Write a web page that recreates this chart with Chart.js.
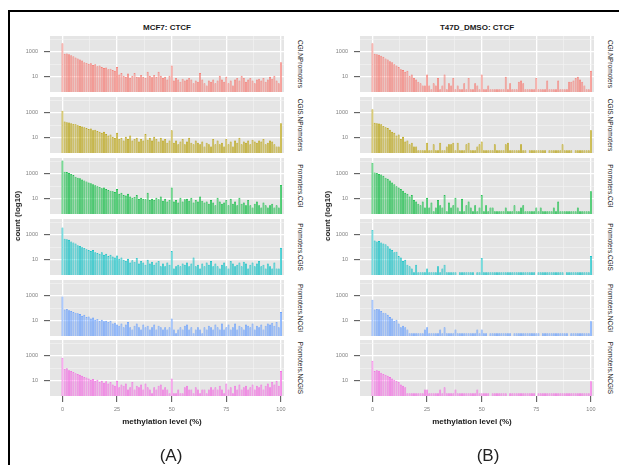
<!DOCTYPE html>
<html><head><meta charset="utf-8">
<script src="https://cdn.jsdelivr.net/npm/chart.js@4.4.1/dist/chart.umd.min.js"></script>
<style>
body{margin:0;width:619px;height:465px;background:#fff;position:relative;overflow:hidden;font-family:"Liberation Sans",Arial,sans-serif;}
.frame{position:absolute;left:8px;top:10px;width:700px;height:500px;border-top:2px solid #000;border-left:2px solid #000;}
.abs{position:absolute;white-space:nowrap;line-height:1;}
.title{font-weight:bold;font-size:8px;color:#1a1a1a;transform:translate(-50%,-50%);}
.strip{font-size:6.5px;color:#1a1a1a;transform:translate(-50%,-50%) rotate(90deg);}
.ytitle{font-weight:bold;font-size:8px;color:#1a1a1a;transform:translate(-50%,-50%) rotate(-90deg);}
.xtitle{font-weight:bold;font-size:8px;color:#1a1a1a;transform:translate(-50%,-50%);}
.lab{font-size:17px;color:#222;transform:translate(-50%,-50%);}
canvas{position:absolute;}
</style></head><body>
<div class="frame"></div>
<script>
// ---- data ----
const bins = Array.from({length:101},(_,i)=>i);          // methylation level bins (%)
const xTickValues = [0,12.5,25,37.5,50,62.5,75,87.5,100];
const yTickValues = [10,100,1000,10000];
const panelTitles = ["MCF7: CTCF","T47D_DMSO: CTCF"];
const facetNames = ["CGI.NPromoters","CGIS.NPromoters","Promoters.CGI","Promoters.CGIS","Promoters.NCGI","Promoters.NCGIS"];
const facetColors = ["#F8766D","#B79F00","#00BA38","#00BFC4","#619CFF","#F564E3"];

const mcf7_CGI_NPromoters = [5000, 700,750,650,550,450, 350,300,250,200,150, 130,110,120,90,100, 70,80,60,50,55, 40,45,35,30,60, 15,20,12,10,18, 8,12,20,10,9, 14,10,8,25,12, 9,14,10,25,12, 8,10,6,12,80, 5,8,6,4,7, 5,6,8,6,3, 5,4,20,6,3, 2,5,4,6,3, 5,12,6,4,10, 3,5,2,6,8, 5,12,8,4,6, 8,5,3,6,7, 5,8,4,6,10, 7,12,5,3,150];
const mcf7_CGIS_NPromoters = [1500, 200,180,170,150,130, 120,100,90,80,70, 60,50,55,40,45, 35,30,25,30,20, 15,18,12,10,25, 8,10,6,12,8, 15,6,8,10,5, 8,6,20,7,10, 6,12,8,5,10, 6,8,4,6,40, 4,6,3,5,8, 3,5,10,4,3, 6,4,3,5,2, 4,3,2,8,3, 6,3,4,2,8, 3,5,2,6,4, 10,3,5,4,6, 3,7,5,4,6, 5,8,3,4,6, 5,3,2,2,150];
const mcf7_Promoters_CGI = [12000, 1500,1400,1200,1000,800, 600,500,450,350,300, 250,200,180,150,120, 100,90,70,80,60, 50,45,40,35,60, 25,30,20,18,25, 15,12,14,20,10, 12,10,9,30,8, 10,8,12,9,15, 7,10,6,8,80, 6,8,5,12,6, 9,10,7,12,5, 8,6,15,7,5, 6,4,8,5,3, 12,6,4,5,8, 3,10,4,6,3, 12,4,5,3,8, 3,2,4,6,3, 2,5,3,2,3, 4,2,3,2,130];
const mcf7_Promoters_CGIS = [4000, 500,450,400,300,250, 200,150,130,100,90, 70,60,50,60,40, 35,30,40,25,30, 20,25,18,15,22, 12,15,10,8,12, 6,9,7,14,5, 8,6,4,10,5, 7,4,6,8,3, 5,3,6,4,50, 2,3,4,3,5, 4,6,3,5,15, 3,4,2,5,3, 6,4,8,3,5, 3,2,4,6,3, 2,8,5,3,4, 6,3,7,5,2, 4,6,3,5,8, 3,4,2,5,3, 2,6,2,2,90];
const mcf7_Promoters_NCGI = [900, 80,90,70,60,50, 45,40,35,25,30, 20,22,15,18,12, 14,10,12,9,10, 8,10,6,7,5, 4,6,3,5,8, 3,2,4,6,3, 2,5,3,4,2, 3,5,2,4,3, 2,3,2,3,15, 2,1,2,3,2, 4,5,2,3,1, 2,3,2,1,3, 2,4,3,2,5, 3,2,6,2,3, 5,2,3,6,2, 4,3,2,5,4, 3,6,2,4,3, 5,2,4,6,5, 7,4,8,3,50];
const mcf7_Promoters_NCGIS = [700, 90,100,70,60,50, 40,35,30,25,20, 18,15,12,14,10, 12,8,10,7,9, 6,8,5,4,10, 3,5,4,6,2, 3,8,2,4,3, 5,2,6,3,2, 1,3,2,4,5, 2,3,2,1,15, 1,1,2,1,1, 3,4,2,2,1, 3,2,1,2,2, 1,2,3,2,3, 2,4,2,1,6, 2,3,1,4,2, 5,2,3,4,2, 3,5,2,4,3, 5,2,4,6,3, 8,5,10,4,60];

const t47d_CGI_NPromoters = [5000, 700,650,600,500,400, 300,250,180,150,100, 80,60,40,35,25, 30,12,15,8,6, 4,3,2,2,15, 2,1,3,2,8, 1,2,15,1,3, 2,8,1,2,1, 1,3,1,8,1, 1,3,2,1,15, 1,1,2,1,1, 1,1,1,1,1, 10,1,3,1,1, 1,4,5,3,1, 1,1,1,1,8, 1,1,1,1,5, 1,1,1,1,5, 1,1,1,1,4, 4,5,8,10,6, 4,2,1,1,30];
const t47d_CGIS_NPromoters = [2000, 160,150,140,120,90, 70,60,45,30,25, 15,18,8,12,5, 6,3,4,2,2, 1,1,1,1,4, 1,1,3,1,1, 4,1,1,2,3, 3,4,1,4,1, 1,1,3,4,1, 1,1,2,3,5, 1,1,1,1,1, 3,1,1,1,1, 3,4,1,1,1, 1,1,3,1,1, null,1,1,1,1, 1,1,1,1,null, 1,1,1,1,1, 1,3,1,1,1, 1,null,1,1,1, 1,1,1,1,40];
const t47d_Promoters_CGI = [8000, 1300,1200,1000,900,700, 500,400,300,200,150, 100,80,60,45,30, 25,15,20,8,6, 4,3,6,2,12, 2,5,1,2,8, 3,2,20,1,5, 2,3,12,2,1, 10,1,3,6,2, 1,3,1,2,20, 1,3,1,2,2, 1,1,1,1,1, 2,1,1,1,3, 1,1,2,3,1, 1,1,1,1,2, 1,2,1,1,1, 1,1,2,1,6, 1,1,1,1,1, 1,1,1,2,1, 1,1,1,1,40];
const t47d_Promoters_CGIS = [2500, 350,300,320,250,200, 180,120,80,60,40, 45,20,15,8,10, 4,3,2,1,4, 1,1,1,1,2, 1,1,1,1,3, 1,2,4,1,1, 1,1,1,null,1, 1,1,1,1,1, 1,null,1,1,14, 1,1,1,1,1, 1,1,1,1,1, 1,1,1,1,1, 1,1,1,1,1, 1,1,1,1,null, 1,1,1,1,1, 1,1,1,1,1, 1,1,null,1,1, 1,1,1,1,1, 1,1,1,1,20];
const t47d_Promoters_NCGI = [500, 80,90,85,60,45, 40,30,20,15,10, 12,6,3,4,3, 2,1,1,1,1, 1,1,1,2,3, 1,1,1,1,1, 2,1,3,1,1, 1,1,2,1,1, 1,1,1,1,1, 1,1,2,1,2, 1,1,null,1,1, 1,1,1,1,1, 1,1,1,null,1, 1,1,1,1,1, 1,1,1,1,1, 1,null,1,1,1, 1,1,1,1,1, 1,1,1,1,null, 1,1,1,1,1, 1,1,1,1,9];
const t47d_Promoters_NCGIS = [400, 60,70,65,45,35, 30,25,20,15,12, 10,8,5,4,3, 1,1,1,1,1, 1,1,1,2,2, 1,1,1,1,1, 2,1,3,1,1, 1,1,2,1,1, 1,1,1,1,1, 1,1,2,1,1, 1,1,1,null,1, 1,1,1,1,1, 1,null,1,1,1, 1,1,1,1,1, 1,1,1,1,null, 1,1,1,1,1, 1,1,1,1,1, 1,1,1,1,1, 1,1,1,1,1, 1,1,1,1,9];

const panels = [
  [mcf7_CGI_NPromoters, mcf7_CGIS_NPromoters, mcf7_Promoters_CGI, mcf7_Promoters_CGIS, mcf7_Promoters_NCGI, mcf7_Promoters_NCGIS],
  [t47d_CGI_NPromoters, t47d_CGIS_NPromoters, t47d_Promoters_CGI, t47d_Promoters_CGIS, t47d_Promoters_NCGI, t47d_Promoters_NCGIS]
];

// ---- layout ----
const PL = [50, 360];          // plot-area left per panel
const PW = 234;                // plot-area width
const FT = [36, 97, 158, 219, 280, 340]; // facet tops
const FH = 56;                 // facet height
const YAXW = 46, XAXH = 22, RPAD = 12;

Chart.defaults.font.family = '"Liberation Sans", Arial, sans-serif';

function hexA(hex, a){const n=parseInt(hex.slice(1),16);return `rgba(${n>>16},${(n>>8)&255},${n&255},${a})`;}

const bgPlugin = {id:'bg', beforeDraw(chart){const {ctx, chartArea:a}=chart; ctx.save(); ctx.fillStyle='#E5E5E5'; ctx.fillRect(a.left,a.top,a.right-a.left,a.bottom-a.top); ctx.restore();}};

function addText(cls, txt, x, y){const d=document.createElement('div'); d.className='abs '+cls; d.textContent=txt; d.style.left=x+'px'; d.style.top=y+'px'; document.body.appendChild(d);}

function makeFacet(p, r){
  const isBottom = r === 5;
  const values = panels[p][r];
  const color = facetColors[r];
  const c = document.createElement('canvas');
  const W = YAXW + PW + RPAD, H = FH + (isBottom ? XAXH : 0);
  c.width = W; c.height = H;
  c.style.left = (PL[p]-YAXW)+'px'; c.style.top = FT[r]+'px';
  c.style.width = W+'px'; c.style.height = H+'px';
  document.body.appendChild(c);
  new Chart(c, {
    type:'bar',
    data:{datasets:[{
      data: bins.map((b,i)=>({x:b, y:values[i]})),
      backgroundColor: hexA(color,0.5), borderColor: color, borderWidth: 0.6,
      barPercentage: 0.9, categoryPercentage: 1
    }]},
    options:{
      responsive:false, animation:false, devicePixelRatio:1, events:[],
      layout:{padding:{left:0,top:0,right:RPAD,bottom:0}},
      plugins:{legend:{display:false}, tooltip:{enabled:false}},
      scales:{
        x:{type:'linear', min:-5.7, max:101.4, offset:false,
          afterBuildTicks: s=>{ s.ticks = xTickValues.map(v=>({value:v})); },
          ticks:{display:isBottom, autoSkip:false, maxRotation:0, padding:4, font:{size:5.5}, color:'#808080',
            callback: v => (v % 25 === 0) ? String(v) : ''},
          grid:{offset:false, drawTicks:isBottom, tickLength:6,
            color: ctx => (ctx.tick && ctx.tick.value % 25 === 0) ? '#FFFFFF' : '#F3F3F3',
            lineWidth: ctx => (ctx.tick && ctx.tick.value % 25 === 0) ? 1.3 : 0.6,
            tickColor: ctx => (ctx.tick && ctx.tick.value % 25 === 0) ? '#4d4d4d' : 'rgba(0,0,0,0)',
            tickWidth: 1},
          border:{display:false},
          afterFit: s=>{ s.height = isBottom ? XAXH : 0; s.paddingLeft = 0; s.paddingRight = 0; }
        },
        y:{type:'logarithmic', min:0.63, max:19000,
          afterBuildTicks: s=>{ s.ticks = yTickValues.map(v=>({value:v})); },
          ticks:{autoSkip:false, padding:6, font:{size:5.5}, color:'#808080',
            callback: v => (v === 10 || v === 1000) ? String(v) : ''},
          grid:{drawTicks:true, tickLength:6,
            color: ctx => (ctx.tick && (ctx.tick.value === 10 || ctx.tick.value === 1000)) ? '#FFFFFF' : '#F3F3F3',
            lineWidth: ctx => (ctx.tick && (ctx.tick.value === 10 || ctx.tick.value === 1000)) ? 1.3 : 0.6,
            tickColor: ctx => (ctx.tick && (ctx.tick.value === 10 || ctx.tick.value === 1000)) ? '#4d4d4d' : 'rgba(0,0,0,0)',
            tickWidth: 1},
          border:{display:false},
          afterFit: s=>{ s.width = YAXW; s.paddingTop = 0; s.paddingBottom = 0; }
        }
      }
    },
    plugins:[bgPlugin]
  });
}

for (let p=0;p<2;p++){
  for (let r=0;r<6;r++){
    makeFacet(p, r);
    addText('strip', facetNames[r], PL[p]+PW+16, FT[r]+FH/2);
  }
  addText('title', panelTitles[p], PL[p]+PW/2, 28);
  addText('ytitle', 'count (log10)', PL[p]-32, 216);
  addText('xtitle', 'methylation level (%)', PL[p]+PW/2-5, 422);
}
addText('lab', '(A)', 171, 455);
addText('lab', '(B)', 488, 455);
</script>
</body></html>
